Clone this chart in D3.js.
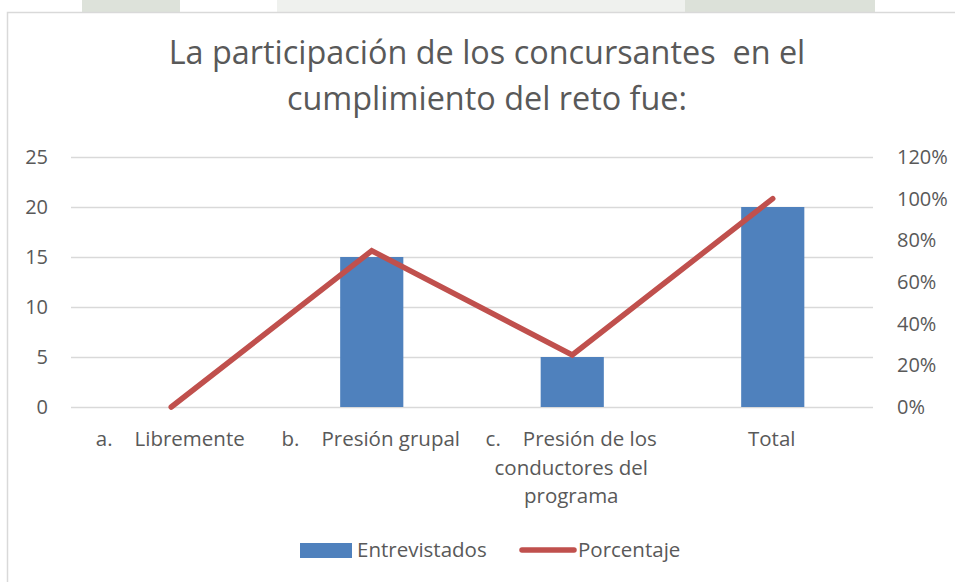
<!DOCTYPE html>
<html>
<head>
<meta charset="utf-8">
<script src="https://cdn.jsdelivr.net/npm/d3@7/dist/d3.min.js"></script>
<style>
  html, body { margin: 0; padding: 0; background: #fff; }
  svg { display: block; font-family: "Open Sans", sans-serif; }
</style>
</head>
<body>
<svg id="chart" width="955" height="582"></svg>
<script>
// ---- data ----
const titleLines = ["La participación de los concursantes  en el", "cumplimiento del reto fue:"];
const categoryPrefixes = ["a.", "b.", "c.", ""];
const categoryLabels = [["Libremente"], ["Presión grupal"], ["Presión de los", "conductores del", "programa"], ["Total"]];
const entrevistados = [0, 15, 5, 20];
const porcentaje = [0, 0.75, 0.25, 1.0];
const leftTicks = [0, 5, 10, 15, 20, 25];
const rightTicks = [0, 0.2, 0.4, 0.6, 0.8, 1.0, 1.2];
const seriesNames = ["Entrevistados", "Porcentaje"];

// ---- layout ----
const W = 955, H = 582;
const plot = { left: 71, right: 873, top: 157, bottom: 407 };
const textColor = "#595959";
const gridColor = "#d9d9d9";
const barColor = "#4F81BD";
const lineColor = "#C0504D";

const svg = d3.select("#chart");

// faint background watermark at very top
const wm = svg.append("g");
wm.append("rect").attr("x", 82).attr("y", 0).attr("width", 98).attr("height", 12).attr("fill", "#dde2da");
wm.append("rect").attr("x", 277).attr("y", 0).attr("width", 408).attr("height", 12).attr("fill", "#eff1ee");
wm.append("rect").attr("x", 685).attr("y", 0).attr("width", 190).attr("height", 12).attr("fill", "#dce1d9");

// chart border
svg.append("rect").attr("x", 7.5).attr("y", 12.5).attr("width", 1000).attr("height", 620)
  .attr("fill", "#fff").attr("stroke", gridColor).attr("stroke-width", 1.5);

// scales
const x = d3.scaleBand().domain(d3.range(categoryLabels.length)).range([plot.left, plot.right]).padding(0);
const yL = d3.scaleLinear().domain([0, 25]).range([plot.bottom, plot.top]);
const yR = d3.scaleLinear().domain([0, 1.2]).range([plot.bottom, plot.top]);

// title
const title = svg.append("text").attr("text-anchor", "middle").attr("fill", textColor)
  .attr("font-size", 32.4).style("white-space", "pre");
titleLines.forEach((t, i) => {
  title.append("tspan").attr("x", 487).attr("y", 64 + i * 46).text(t);
});

// gridlines
svg.append("g").selectAll("line").data(leftTicks).join("line")
  .attr("x1", plot.left).attr("x2", plot.right)
  .attr("y1", d => Math.round(yL(d)) + 0.5).attr("y2", d => Math.round(yL(d)) + 0.5)
  .attr("stroke", gridColor).attr("stroke-width", 1.5);

// left axis
const axL = d3.axisLeft(yL).tickValues(leftTicks).tickSize(0).tickPadding(23);
const gL = svg.append("g").attr("transform", `translate(${plot.left},0)`).call(axL);
gL.select(".domain").remove();
gL.selectAll("text").attr("fill", textColor).attr("font-size", 20).attr("font-family", "Open Sans");

// right axis
const axR = d3.axisRight(yR).tickValues(rightTicks).tickSize(0).tickPadding(24).tickFormat(d3.format(".0%"));
const gR = svg.append("g").attr("transform", `translate(${plot.right},0)`).call(axR);
gR.select(".domain").remove();
gR.selectAll("text").attr("fill", textColor).attr("font-size", 20).attr("font-family", "Open Sans");

// bars
const barW = x.bandwidth() * 0.315;
svg.append("g").selectAll("rect").data(entrevistados).join("rect")
  .attr("x", (d, i) => x(i) + x.bandwidth() / 2 - barW / 2)
  .attr("width", barW)
  .attr("y", d => yL(d))
  .attr("height", d => yL(0) - yL(d))
  .attr("fill", barColor);

// line
const line = d3.line().x((d, i) => x(i) + x.bandwidth() / 2).y(d => yR(d));
svg.append("path").datum(porcentaje).attr("d", line)
  .attr("fill", "none").attr("stroke", lineColor).attr("stroke-width", 5.5)
  .attr("stroke-linecap", "round").attr("stroke-linejoin", "miter");

// category labels
const cat = svg.append("g").attr("fill", textColor).attr("font-size", 20.5).attr("text-anchor", "middle");
categoryLabels.forEach((lines, i) => {
  const cx = x(i) + x.bandwidth() / 2 - 1;
  lines.forEach((ln, j) => {
    const t = cat.append("text").attr("x", cx).attr("y", 446 + j * 28.5);
    if (j === 0 && categoryPrefixes[i]) {
      t.append("tspan").text(categoryPrefixes[i]);
      t.append("tspan").attr("dx", 22).text(ln);
    } else {
      t.text(ln);
    }
  });
});

// legend
const lg = svg.append("g").attr("font-size", 20.5).attr("fill", textColor);
lg.append("rect").attr("x", 300).attr("y", 543).attr("width", 52).attr("height", 15).attr("fill", barColor);
lg.append("text").attr("x", 357).attr("y", 557).text(seriesNames[0]);
lg.append("line").attr("x1", 522).attr("x2", 574).attr("y1", 550).attr("y2", 550)
  .attr("stroke", lineColor).attr("stroke-width", 5.5).attr("stroke-linecap", "round");
lg.append("text").attr("x", 578).attr("y", 557).text(seriesNames[1]);
</script>
</body>
</html>
